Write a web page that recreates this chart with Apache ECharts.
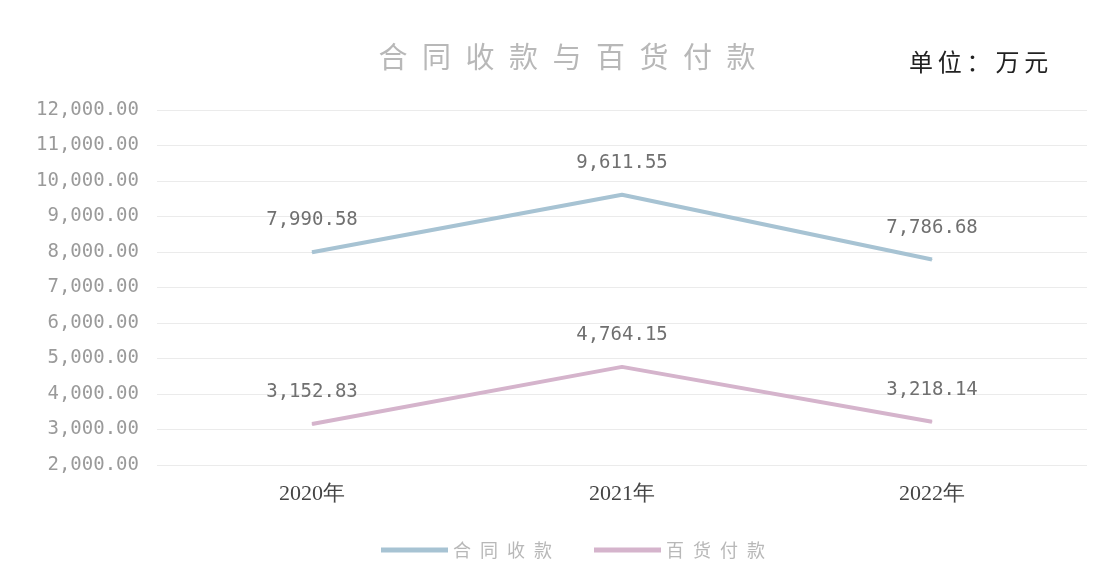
<!DOCTYPE html>
<html><head><meta charset="utf-8">
<script src="https://cdn.jsdelivr.net/npm/echarts@6/dist/echarts.min.js"></script>
<style>html,body{margin:0;padding:0;background:#fff}#c{width:1112px;height:584px}</style>
</head><body><div id="c"></div>
<script>
const categories = ['2020年', '2021年', '2022年'];
const seriesNames = ['合同收款', '百货付款'];
const contractReceipts = [7990.58, 9611.55, 7786.68];
const storePayments = [3152.83, 4764.15, 3218.14];
const titleText = '合同收款与百货付款';
const unitText = '单位：万元';
const colors = ['#a7c3d3', '#d5b4cc'];

const fmt = v => Number(v).toLocaleString('en-US', {minimumFractionDigits: 2, maximumFractionDigits: 2});
const spaced = (s, sep) => s.split('').join(sep || '\u2002');
const chart = echarts.init(document.getElementById('c'));
const lblStyle = {show: true, position: 'top', distance: 22, fontSize: 19, color: '#707070',
  fontFamily: 'DejaVu Sans Mono', formatter: p => fmt(p.value)};
chart.setOption({
  animation: false,
  backgroundColor: '#fff',
  title: [
    {text: spaced(titleText), left: 562, top: 37, textAlign: 'center',
     textStyle: {fontSize: 29, fontWeight: 'normal', color: '#b8b8b8', fontFamily: 'Noto Sans CJK SC'}},
    {text: spaced(unitText, '\u2009'), left: 904, top: 45,
     textStyle: {fontSize: 24, fontWeight: 'normal', color: '#222', fontFamily: 'Noto Sans CJK SC'}}
  ],
  legend: {
    bottom: 20, left: 376, itemWidth: 67, itemHeight: 5, itemGap: 42,
    icon: 'rect',
    formatter: n => spaced(n),
    textStyle: {fontSize: 18, color: '#b8b8b8', fontFamily: 'Noto Sans CJK SC'},
    data: seriesNames
  },
  grid: {left: 157, right: 25, top: 110, bottom: 119},
  xAxis: {
    type: 'category', data: categories, boundaryGap: true,
    axisLine: {show: false}, axisTick: {show: false},
    axisLabel: {fontSize: 22, color: '#444', margin: 18, fontFamily: 'Liberation Serif'}
  },
  yAxis: {
    type: 'value', min: 2000, max: 12000, interval: 1000,
    axisLine: {show: false}, axisTick: {show: false},
    axisLabel: {fontSize: 19, color: '#9a9a9a', margin: 18, fontFamily: 'DejaVu Sans Mono', formatter: v => fmt(v)},
    splitLine: {lineStyle: {color: '#ebebeb', width: 1}}
  },
  series: [
    {name: seriesNames[0], type: 'line', data: contractReceipts, symbol: 'circle', symbolSize: 1, showSymbol: true,
     lineStyle: {color: colors[0], width: 4}, itemStyle: {color: colors[0]}, label: lblStyle},
    {name: seriesNames[1], type: 'line', data: storePayments, symbol: 'circle', symbolSize: 1, showSymbol: true,
     lineStyle: {color: colors[1], width: 4}, itemStyle: {color: colors[1]}, label: lblStyle}
  ]
});
</script></body></html>
